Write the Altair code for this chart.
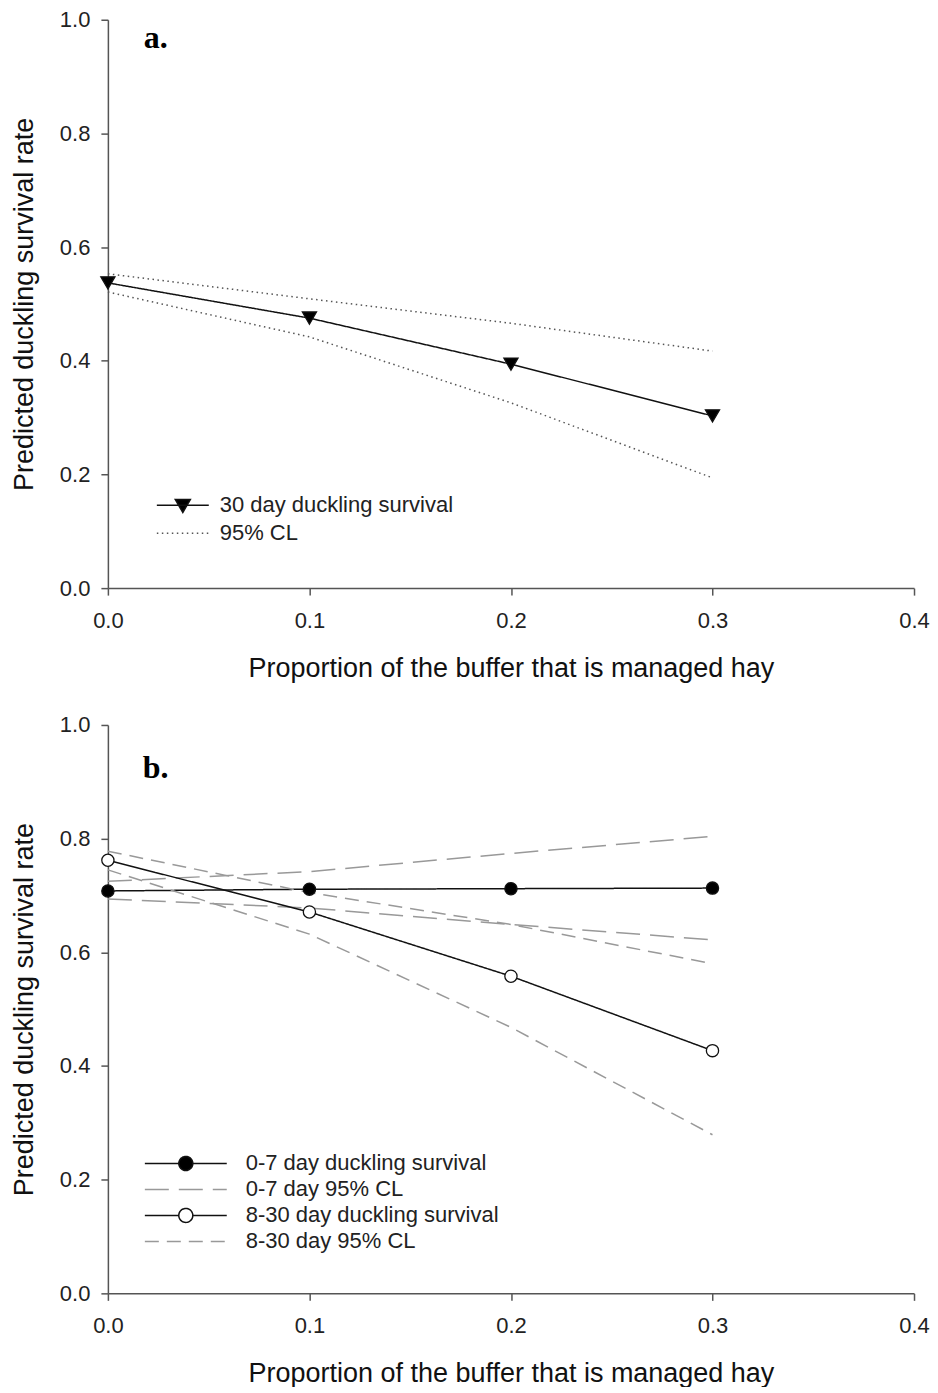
import altair as alt
import pandas as pd

# ---------------- data ----------------
X = [0.0, 0.1, 0.2, 0.3]

A_LABELS = ["30 day duckling survival", "95% CL"]
a_surv = [0.537, 0.475, 0.394, 0.303]
a_cl_upper = [0.553, 0.509, 0.466, 0.417]
a_cl_lower = [0.521, 0.442, 0.326, 0.194]

B_LABELS = ["0-7 day duckling survival", "0-7 day 95% CL",
            "8-30 day duckling survival", "8-30 day 95% CL"]
b_s07 = [0.708, 0.711, 0.712, 0.713]
b_cl07_upper = [0.725, 0.742, 0.774, 0.804]
b_cl07_lower = [0.694, 0.678, 0.649, 0.622]
b_s830 = [0.762, 0.671, 0.558, 0.427]
b_cl830_upper = [0.778, 0.705, 0.649, 0.580]
b_cl830_lower = [0.745, 0.632, 0.468, 0.279]

X_TICKS = [0.0, 0.1, 0.2, 0.3, 0.4]
Y_TICKS = [0.0, 0.2, 0.4, 0.6, 0.8, 1.0]
X_TITLE = "Proportion of the buffer that is managed hay"
Y_TITLE = "Predicted duckling survival rate"

SANS = "Liberation Sans"
SERIF = "Liberation Serif"


def rows(series, bound, ys):
    return [{"x": x, "y": y, "series": series, "bound": bound} for x, y in zip(X, ys)]


# legend symbol shapes (normalised custom paths: line with marker)
LINE_PATH = "M-1,0L1,0"
TRI_PATH = "M-1,0L1,0M-0.29,-0.22L0.29,-0.22L0,0.28Z"
R = 0.171
CIRC_PATH = (f"M-1,0L-{R},0M{R},0L1,0"
             f"M{R},0A{R},{R},0,1,1,-{R},0A{R},{R},0,1,1,{R},0Z")


def panel(line_rows, point_rows, domain, stroke_range, dash_range, fill_range,
          shape_range, point_shape, point_size, label, label_xy, leg):
    lines_df = pd.DataFrame(line_rows)
    pts_df = pd.DataFrame(point_rows)
    legend = alt.Legend(
        title=None, orient="none", legendX=leg["x"], legendY=leg["y"],
        symbolSize=leg["size"], labelOffset=leg["offset"], rowPadding=leg["rowpad"],
        clipHeight=22, padding=0, symbolStrokeWidth=1.5,
        symbolFillColor="white", symbolStrokeColor="black",
        labelFont=SANS, labelFontSize=22, labelColor="#222", labelLimit=500,
    )
    x = alt.X("x:Q", scale=alt.Scale(domain=[0, 0.4], nice=False),
              axis=alt.Axis(values=X_TICKS, format=".1f", title=X_TITLE,
                            labelFlush=False, labelPadding=15, titlePadding=24))
    y = alt.Y("y:Q", scale=alt.Scale(domain=[0, 1], nice=False),
              axis=alt.Axis(values=Y_TICKS, format=".1f", title=Y_TITLE,
                            labelFlush=False, labelPadding=11, titlePadding=21))
    stroke = alt.Stroke("series:N", scale=alt.Scale(domain=domain, range=stroke_range), legend=legend)
    dash = alt.StrokeDash("series:N", scale=alt.Scale(domain=domain, range=dash_range), legend=legend)
    fill = alt.Fill("series:N", scale=alt.Scale(domain=domain, range=fill_range), legend=legend)
    shape = alt.Shape("series:N", scale=alt.Scale(domain=domain, range=shape_range), legend=legend)

    lines = alt.Chart(lines_df).mark_line(strokeWidth=1.5).encode(
        x=x, y=y, stroke=stroke, strokeDash=dash, detail="bound:N"
    )
    points = alt.Chart(pts_df).mark_point(
        filled=True, shape=point_shape, size=point_size, opacity=1, strokeWidth=1.3
    ).encode(x=x, y=y, fill=fill, stroke=stroke)
    legend_layer = alt.Chart(pts_df).mark_point(filled=True, opacity=1).encode(
        x=x, y=y, fill=fill, stroke=stroke, shape=shape
    ).transform_filter("false")
    text = alt.Chart(pd.DataFrame({"label": [label]})).mark_text(
        font=SERIF, fontSize=32, fontWeight="bold", align="left",
        baseline="alphabetic", color="black"
    ).encode(x=alt.value(label_xy[0]), y=alt.value(label_xy[1]), text="label:N")
    return alt.layer(lines, points, legend_layer, text).properties(width=807, height=569)


pa = panel(
    rows(A_LABELS[0], "est", a_surv) + rows(A_LABELS[1], "upper", a_cl_upper)
    + rows(A_LABELS[1], "lower", a_cl_lower),
    rows(A_LABELS[0], "est", a_surv),
    A_LABELS, ["#111111", "#555555"], [[1, 0], [1.5, 3.5]], ["black", "white"],
    [TRI_PATH, LINE_PATH], "triangle-down", 200, "a.", (36, 28),
    {"x": 48, "y": 475, "size": 52 * 52, "offset": 10, "rowpad": 6},
)

pb = panel(
    rows(B_LABELS[0], "est", b_s07) + rows(B_LABELS[1], "upper", b_cl07_upper)
    + rows(B_LABELS[1], "lower", b_cl07_lower) + rows(B_LABELS[2], "est", b_s830)
    + rows(B_LABELS[3], "upper", b_cl830_upper) + rows(B_LABELS[3], "lower", b_cl830_lower),
    rows(B_LABELS[0], "est", b_s07) + rows(B_LABELS[2], "est", b_s830),
    B_LABELS, ["#111111", "#999999", "#111111", "#999999"],
    [[1, 0], [24, 10], [1, 0], [14, 8]], ["black", "white", "white", "white"],
    [CIRC_PATH, LINE_PATH, CIRC_PATH, LINE_PATH], "circle", 150, "b.", (35, 53),
    {"x": 36, "y": 428, "size": 82 * 82, "offset": 18, "rowpad": 4},
)

chart = alt.vconcat(pa, pb, spacing=33).resolve_scale(
    fill="independent", stroke="independent", strokeDash="independent", shape="independent"
).properties(
    padding={"left": 2, "top": 0, "right": 0, "bottom": 0}
).configure_view(stroke=None).configure_axis(
    grid=False, domainColor="#555555", tickColor="#555555", domainWidth=1.5,
    tickWidth=1.5, tickSize=7, labelFont=SANS, labelFontSize=22, labelColor="#222222",
    titleFont=SANS, titleFontSize=27, titleFontWeight="normal", titleColor="#111111",
)

chart.save("out.html", embed_options={"renderer": "svg", "actions": False})
